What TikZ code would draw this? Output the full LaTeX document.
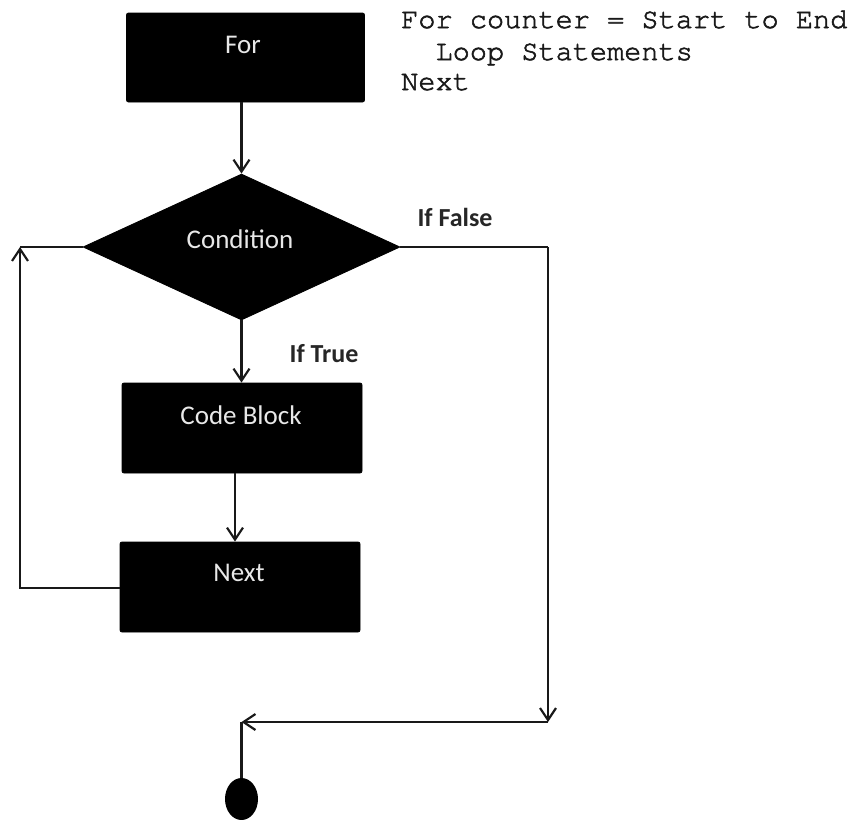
\documentclass[tikz,border=0pt]{standalone}
\usepackage{fontspec}
\setmainfont{Carlito}
\newfontfamily\codefont[FakeBold=2]{texgyrecursor-regular.otf}
\usetikzlibrary{shapes.geometric,arrows.meta}
\definecolor{lbltext}{HTML}{E8E8E8}
\tikzset{
  blk/.style={draw=black, fill=black, rounded corners=2pt, line width=0.8pt,
    minimum width=238pt, minimum height=89pt, inner sep=0pt},
  cond/.style={diamond, draw=black, fill=black, line width=0.8pt, inner sep=0pt,
    minimum width=317pt, minimum height=146pt, aspect=2.17},
  lbl/.style={text=lbltext, font=\fontsize{27}{32}\selectfont, inner sep=0pt},
  edgelbl/.style={font=\bfseries\fontsize{26}{30}\selectfont, text=black!85, inner sep=0pt},
  code/.style={font=\codefont\fontsize{28.6}{33}\selectfont, text=black!90, inner sep=0pt, anchor=base west},
  conn/.style={draw=black!90, line width=2.4pt},
  arr/.style={conn, -{Straight Barb[length=12pt,width=16pt,line width=2.2pt]}},
  enddot/.style={ellipse, fill=black, minimum width=33pt, minimum height=42pt, inner sep=0pt}
}
\begin{document}
\begin{tikzpicture}[x=1pt,y=-1pt]
\useasboundingbox[fill=white] (0,0) rectangle (853,819);
% nodes
\node[blk] (for) at (245.5,57.5) {};
\node[lbl] (fort) at (243,45) {For};
\node[cond] (cond) at (241.5,247) {};
\node[lbl] (condt) at (240,239) {Condition};
\node[blk, minimum width=240pt, minimum height=90pt] (code) at (242,428) {};
\node[lbl] (codet) at (241,415) {Code Block};
\node[blk, minimum width=240pt, minimum height=90pt] (next) at (240,587) {};
\node[lbl] (nextt) at (239,573) {Next};
\node[enddot] (dot) at (241.5,799) {};
% labels
\node[edgelbl] (iftrue) at (324,354) {If True};
\node[edgelbl] (iffalse) at (455,217) {If False};
\node[code] (c1) at (401,28) {For counter = Start to End};
\node[code] (c2) at (401,60) {\ \ Loop Statements};
\node[code] (c3) at (401,90) {Next};
% coordinates
\coordinate (lc) at (cond.west -| 20,0);
\coordinate (rc) at (cond.east -| 548,0);
\coordinate (br) at (548,722);
\coordinate (bl) at (241.5,722);
% connectors
\draw[arr] (for.south -| cond.north) -- (cond.north);
\draw[arr] (cond.south) -- (code.north -| cond.south);
\draw[arr] (code.south -| 235,0) -- (next.north -| 235,0);
\draw[arr] (next.west |- 0,588) -| (lc);
\draw[conn] (lc) -- (cond.west);
\draw[conn] (cond.east) -- (rc);
\draw[arr] (rc) -- (br);
\draw[arr] (br) -- (bl);
\draw[conn] (bl) -- (dot.north);
\end{tikzpicture}
\end{document}
